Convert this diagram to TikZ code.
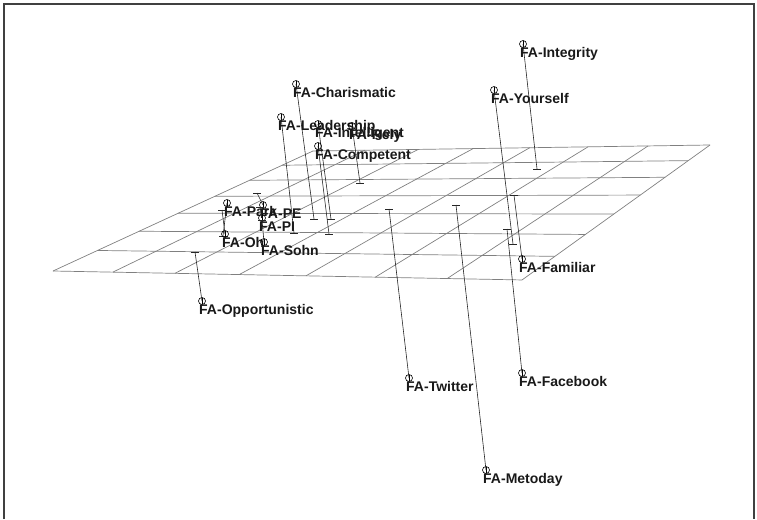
\documentclass[tikz,border=0pt]{standalone}
\usepackage{fontspec}
\setmainfont{Liberation Sans}[BoldFont={Liberation Sans Bold}]
\begin{document}
\begin{tikzpicture}[x=1pt,y=-1pt,
  declare function={
    hw(\u,\v)=-0.1217*\u+0.239*\v+1;
    hx(\u,\v)=(405.5*\u+334.8*\v+53)/hw(\u,\v);
    hy(\u,\v)=(-25.1*\u-83.9*\v+271)/hw(\u,\v);
  },
  gridline/.style={draw=black!50,line width=0.7pt},
  frameline/.style={draw=black!75,line width=1.2pt},
  conn/.style={draw=black!85,line width=0.6pt},
  pmark/.style={circle,draw=black,line width=0.6pt,minimum size=7pt,inner sep=0pt,
    path picture={\draw[line width=0.5pt] (path picture bounding box.north) -- (path picture bounding box.south);}},
  lab/.style={anchor=base west,inner sep=0pt,font=\bfseries\fontsize{14}{15}\selectfont,text=black!90},
]
\useasboundingbox (0,0) rectangle (757,519);
% frame
\draw[frameline] (4,519) -- (4,4) -- (754,4) -- (754,519);
% grid plane
\foreach \i in {0,...,7}{
  \draw[gridline] ({hx(\i/7,0)},{hy(\i/7,0)}) -- ({hx(\i/7,1)},{hy(\i/7,1)});
  \draw[gridline] ({hx(0,\i/7)},{hy(0,\i/7)}) -- ({hx(1,\i/7)},{hy(1,\i/7)});
}
% points: name / marker / foot / label
\foreach \n/\mx/\my/\fx/\fy/\t in {
  integ/523/44/537/169/FA-Integrity,
  yours/494/90/513/244/FA-Yourself,
  chari/296/84/314/219/FA-Charismatic,
  leade/281/117/294/233/FA-Leadership,
  intel/318/124/331/219/FA-Intelligent,
  loyal/352/126/360/183/FA-Rely,
  compe/318/146/329/234/FA-Competent,
  park/227/203/223/236/FA-Park,
  pe/263/205/257/193/FA-PE,
  pi/262/218/260/207/FA-PI,
  oh/225/234/222/210/FA-Oh,
  sohn/264/242/262/220/FA-Sohn,
  oppor/202/301/195/252/FA-Opportunistic,
  famil/522/259/514/195/FA-Familiar,
  twitt/409/378/389/209/FA-Twitter,
  faceb/522/373/507/229/FA-Facebook,
  metod/486/470/456/205/FA-Metoday}{
  \coordinate (f\n) at (\fx,\fy);
  \node[pmark] (p\n) at (\mx,\my) {};
  \draw[conn] (p\n.center) -- (f\n);
  \draw[conn] ([xshift=-4pt]f\n) -- ([xshift=4pt]f\n);
  \node[lab] (l\n) at ([xshift=-3pt,yshift=-13pt]p\n.center) {\t};
}
\end{tikzpicture}
\end{document}
